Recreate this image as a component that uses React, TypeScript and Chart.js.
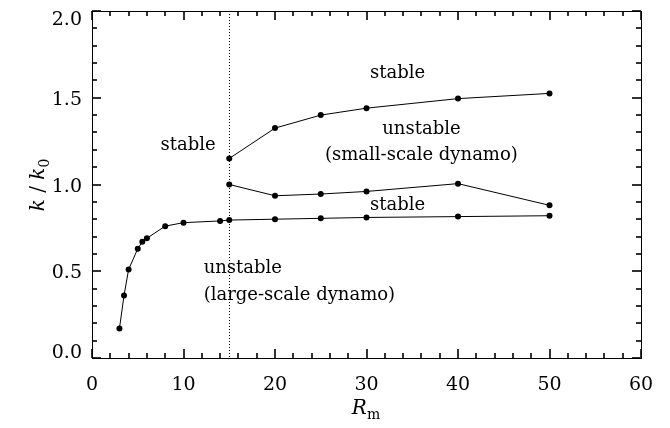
import React, { useEffect, useRef } from "react";
import { Chart, registerables } from "chart.js";

Chart.register(...registerables);

// Wavenumber of the fastest mode k/k0 against magnetic Reynolds number Rm
const rmLower = [3, 3.5, 4, 5, 5.5, 6, 8, 10, 14, 15, 20, 25, 30, 40, 50];
const kLower = [0.17, 0.36, 0.51, 0.63, 0.67, 0.69, 0.76, 0.78, 0.79, 0.795, 0.8, 0.805, 0.81, 0.815, 0.82];

const rmMiddle = [15, 20, 25, 30, 40, 50];
const kMiddle = [1.0, 0.935, 0.945, 0.96, 1.005, 0.88];

const rmUpper = [15, 20, 25, 30, 40, 50];
const kUpper = [1.15, 1.325, 1.4, 1.44, 1.495, 1.525];

const rmCritical = 15;

const xMin = 0;
const xMax = 60;
const xMajorStep = 10;
const xMinorStep = 2;
const yMin = 0;
const yMax = 2;
const yMajorStep = 0.5;
const yMinorStep = 0.1;

const regionLabels = [
  { text: "stable", x: 33.4, y: 1.64, align: "center" },
  { text: "stable", x: 10.5, y: 1.225, align: "center" },
  { text: "unstable", x: 36.0, y: 1.32, align: "center" },
  { text: "(small-scale dynamo)", x: 36.0, y: 1.17, align: "center" },
  { text: "stable", x: 33.4, y: 0.88, align: "center" },
  { text: "unstable", x: 12.2, y: 0.515, align: "left" },
  { text: "(large-scale dynamo)", x: 12.2, y: 0.36, align: "left" },
];

const FONT = "'DejaVu Serif', serif";
const TICK_FONT = `19px ${FONT}`;

const toPoints = (xs: number[], ys: number[]) => xs.map((x, i) => ({ x, y: ys[i] }));

// tick values between min and max at a given step
const tickValues = (min: number, max: number, step: number) => {
  const out: number[] = [];
  const n = Math.round((max - min) / step);
  for (let i = 0; i <= n; i++) out.push(min + i * step);
  return out;
};

const xMinorTicks = tickValues(xMin, xMax, xMinorStep);
const xMajorTicks = tickValues(xMin, xMax, xMajorStep);
const yMinorTicks = tickValues(yMin, yMax, yMinorStep);
const yMajorTicks = tickValues(yMin, yMax, yMajorStep);

const frameAndTicks = {
  id: "frameAndTicks",
  beforeDatasetsDraw(chart: any) {
    const { ctx, chartArea: a, scales } = chart;
    const px = Math.round(scales.x.getPixelForValue(rmCritical));
    ctx.save();
    ctx.fillStyle = "#000";
    // dotted vertical marker
    for (let y = Math.round(a.top); y < a.bottom; y += 3) {
      ctx.fillRect(px, y, 1, 1);
    }
    ctx.restore();
  },
  afterDraw(chart: any) {
    const { ctx, chartArea: a, scales } = chart;
    const L = Math.round(a.left);
    const R = Math.round(a.right);
    const T = Math.round(a.top);
    const B = Math.round(a.bottom);
    const sx = scales.x;
    const sy = scales.y;
    ctx.save();

    // ticks on all four sides, pointing inward
    ctx.fillStyle = "#333";
    const drawX = (vals: number[], len: number) => {
      for (const v of vals) {
        const p = Math.round(sx.getPixelForValue(v));
        ctx.fillRect(p - 1, B - len, 2, len);
        ctx.fillRect(p - 1, T, 2, len);
      }
    };
    const drawY = (vals: number[], len: number) => {
      for (const v of vals) {
        const p = Math.round(sy.getPixelForValue(v));
        ctx.fillRect(L, p - 1, len, 2);
        ctx.fillRect(R - len, p - 1, len, 2);
      }
    };
    drawX(xMinorTicks, 5);
    drawX(xMajorTicks, 9);
    drawY(yMinorTicks, 5);
    drawY(yMajorTicks, 9);

    // frame
    ctx.fillStyle = "#000";
    ctx.fillRect(L, T, R - L + 1, 1);
    ctx.fillRect(L, B, R - L + 1, 1);
    ctx.fillRect(L, T, 1, B - T + 1);
    ctx.fillRect(R, T, 1, B - T + 1);

    // y tick labels; the end labels sit inside the frame height
    ctx.font = TICK_FONT;
    ctx.textAlign = "right";
    ctx.textBaseline = "alphabetic";
    for (const v of yMajorTicks) {
      const p = sy.getPixelForValue(v);
      let base = p + 7;
      if (v === yMax) base = T + 14;
      if (v === yMin) base = B;
      ctx.fillText(v.toFixed(1), L - 10, base);
    }

    // region labels
    ctx.font = `18px ${FONT}`;
    ctx.textBaseline = "middle";
    for (const lab of regionLabels) {
      ctx.textAlign = lab.align as CanvasTextAlign;
      ctx.fillText(lab.text, sx.getPixelForValue(lab.x), sy.getPixelForValue(lab.y));
    }

    // axis titles with subscripts
    const drawSub = (parts: { t: string; italic: boolean; sub?: boolean }[], cx: number, cy: number) => {
      const size = 20;
      const subSize = 14;
      const fontOf = (p: any) => `${p.italic ? "italic " : ""}${p.sub ? subSize : size}px ${FONT}`;
      let w = 0;
      for (const p of parts) {
        ctx.font = fontOf(p);
        w += ctx.measureText(p.t).width;
      }
      let x = cx - w / 2;
      ctx.textAlign = "left";
      ctx.textBaseline = "alphabetic";
      for (const p of parts) {
        ctx.font = fontOf(p);
        ctx.fillText(p.t, x, cy + (p.sub ? 5 : 0));
        x += ctx.measureText(p.t).width;
      }
    };

    drawSub(
      [
        { t: "R", italic: true },
        { t: "m", italic: false, sub: true },
      ],
      366,
      414
    );

    ctx.translate(44, 185);
    ctx.rotate(-Math.PI / 2);
    drawSub(
      [
        { t: "k", italic: true },
        { t: " / ", italic: false },
        { t: "k", italic: true },
        { t: "0", italic: false, sub: true },
      ],
      0,
      0
    );
    ctx.restore();
  },
};

export default function App() {
  const canvasRef = useRef<HTMLCanvasElement | null>(null);

  useEffect(() => {
    document.body.style.margin = "0";
    const canvas = canvasRef.current;
    if (!canvas) return;

    const lineStyle = {
      borderColor: "#000",
      backgroundColor: "#000",
      borderWidth: 1,
      pointRadius: 3,
      pointBackgroundColor: "#000",
      pointBorderWidth: 0,
      showLine: true,
      tension: 0,
    };

    const chart = new Chart(canvas, {
      type: "scatter",
      data: {
        datasets: [
          { label: "lower", data: toPoints(rmLower, kLower), ...lineStyle },
          { label: "middle", data: toPoints(rmMiddle, kMiddle), ...lineStyle },
          { label: "upper", data: toPoints(rmUpper, kUpper), ...lineStyle },
        ],
      },
      options: {
        responsive: false,
        animation: false,
        devicePixelRatio: 1,
        layout: { padding: { top: 11, right: 29, left: 0, bottom: 0 } },
        plugins: {
          legend: { display: false },
          tooltip: { enabled: false },
        },
        scales: {
          x: {
            type: "linear",
            min: xMin,
            max: xMax,
            grid: { display: false },
            border: { display: false },
            ticks: {
              stepSize: xMajorStep,
              color: "#000",
              font: { family: FONT, size: 19 },
              padding: 8,
              maxRotation: 0,
              callback: (v: any) => String(v),
            },
            afterFit: (s: any) => {
              s.height = 70;
              s.paddingLeft = 0;
              s.paddingRight = 0;
            },
          },
          y: {
            type: "linear",
            min: yMin,
            max: yMax,
            grid: { display: false },
            border: { display: false },
            ticks: { display: false, stepSize: yMajorStep },
            afterFit: (s: any) => {
              s.width = 92;
              s.paddingTop = 0;
              s.paddingBottom = 0;
            },
          },
        },
      },
      plugins: [frameAndTicks],
    });

    return () => chart.destroy();
  }, []);

  return (
    <div style={{ width: 670, height: 428, background: "#fff" }}>
      <canvas ref={canvasRef} width={670} height={428} style={{ display: "block", width: 670, height: 428 }} />
    </div>
  );
}
